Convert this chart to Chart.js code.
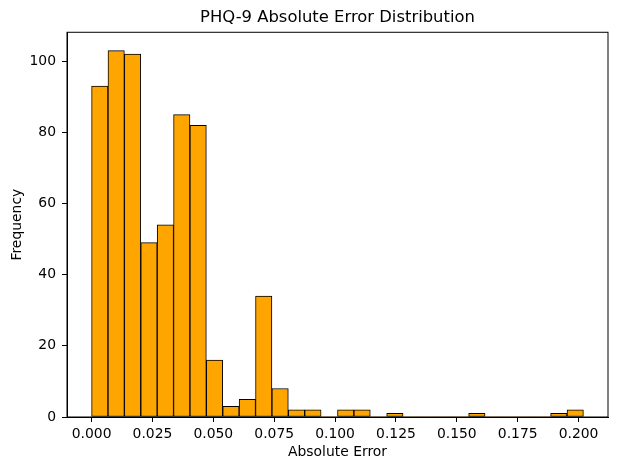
<!DOCTYPE html>
<html>
<head>
<meta charset="utf-8">
<title>PHQ-9 Absolute Error Distribution</title>
<script src="https://cdn.jsdelivr.net/npm/chart.js@4"></script>
<style>
  body { margin: 0; background: #fff; }
  #wrap { width: 618px; height: 470px; }
</style>
</head>
<body>
<div id="wrap"><canvas id="histChart"></canvas></div>
<script>
// histogram: 30 bins between 0 and 0.202
const binStart = 0;
const binEnd = 0.202;
const counts = [93, 103, 102, 49, 54, 85, 82, 16, 3, 5,
                34, 8, 2, 2, 0, 2, 2, 0, 1, 0,
                0, 0, 0, 1, 0, 0, 0, 0, 1, 2];
const xTicks = [0, 0.025, 0.05, 0.075, 0.1, 0.125, 0.15, 0.175, 0.2];
const yTicks = [0, 20, 40, 60, 80, 100];

const binWidth = (binEnd - binStart) / counts.length;
const points = counts.map((c, i) => ({ x: binStart + binWidth * (i + 0.5), y: c }));

const FONT = 'DejaVu Sans';

// matplotlib-style box around the plot area
const frame = {
  id: 'frame',
  afterDatasetsDraw(chart) {
    const a = chart.chartArea, c = chart.ctx;
    c.save();
    c.strokeStyle = '#000';
    c.lineWidth = 1;
    c.strokeRect(a.left, a.top, a.right - a.left, a.bottom - a.top);
    c.restore();
  }
};

const ctx = document.getElementById('histChart').getContext('2d');
const histChart = new Chart(ctx, {
  type: 'bar',
  data: {
    datasets: [{
      data: points,
      backgroundColor: '#FFA500',
      borderColor: '#000',
      borderWidth: c => (c.raw && c.raw.y > 0 ? 1 : 0),
      borderSkipped: false,
      barPercentage: 1,
      categoryPercentage: 1,
      grouped: false
    }]
  },
  options: {
    responsive: true,
    maintainAspectRatio: false,
    animation: false,
    events: [],
    layout: { padding: { left: 0, right: 10, top: 0, bottom: 0 } },
    plugins: {
      legend: { display: false },
      tooltip: { enabled: false },
      title: {
        display: true,
        fullSize: false,
        text: 'PHQ-9 Absolute Error Distribution',
        color: '#000',
        font: { family: FONT, size: 16.4, weight: 'normal' },
        padding: { top: 7.5, bottom: 5.1 }
      }
    },
    scales: {
      x: {
        type: 'linear',
        min: -0.0101,
        max: 0.2121,
        offset: false,
        afterFit: s => { s.height = 53; },
        afterBuildTicks: s => { s.ticks = xTicks.map(v => ({ value: v })); },
        ticks: {
          autoSkip: false,
          maxRotation: 0,
          padding: 4,
          color: '#000',
          font: { family: FONT, size: 13.9 },
          callback: v => Number(v).toFixed(3)
        },
        grid: { offset: false, drawOnChartArea: false, drawTicks: true, tickLength: 5, color: '#000' },
        border: { display: true, color: '#000' },
        title: {
          display: true,
          text: 'Absolute Error',
          color: '#000',
          font: { family: FONT, size: 13.9 },
          padding: { top: 0, bottom: 9.7 }
        }
      },
      y: {
        min: 0,
        max: 108.15,
        afterFit: s => { s.width = 67; },
        afterBuildTicks: s => { s.ticks = yTicks.map(v => ({ value: v })); },
        ticks: {
          padding: 6,
          color: '#000',
          font: { family: FONT, size: 13.9 }
        },
        grid: { drawOnChartArea: false, drawTicks: true, tickLength: 5, color: '#000' },
        border: { display: true, color: '#000' },
        title: {
          display: true,
          text: 'Frequency',
          color: '#000',
          font: { family: FONT, size: 13.9 },
          padding: { top: 9.5, bottom: 0 }
        }
      }
    }
  },
  plugins: [frame]
});
</script>
</body>
</html>
